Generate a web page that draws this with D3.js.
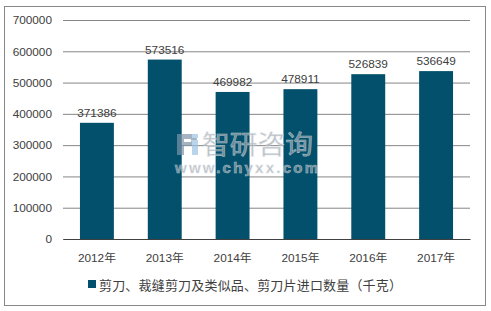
<!DOCTYPE html>
<html><head><meta charset="utf-8">
<script src="https://cdn.jsdelivr.net/npm/d3@7"></script>
<style>body{margin:0;background:#fff}svg{display:block}text{font-family:"Liberation Sans",Arial,"Noto Sans CJK SC",sans-serif;fill:#404040}</style>
</head><body><svg id="c" width="491" height="311"></svg>
<script>
const categories = ["2012年","2013年","2014年","2015年","2016年","2017年"];
const values = [371386,573516,469982,478911,526839,536649];
const yTicks = [0,100000,200000,300000,400000,500000,600000,700000];
const seriesName = "剪刀、裁缝剪刀及类似品、剪刀片进口数量（千克）";

const svg = d3.select("#c");
svg.append("rect").attr("x",4.5).attr("y",6.5).attr("width",481).attr("height",299)
  .attr("fill","#fff").attr("stroke","#888").attr("stroke-width",1);

const m = {l:63, r:470, t:20, b:239};
const x = d3.scaleBand().domain(categories).range([m.l,m.r]).paddingInner(0.5).paddingOuter(0.25);
const y = d3.scaleLinear().domain([0,700000]).range([m.b,m.t]);

const gy = svg.append("g").attr("transform",`translate(${m.l},0)`)
  .call(d3.axisLeft(y).tickValues(yTicks).tickSize(-(m.r-m.l)).tickPadding(11).tickFormat(d3.format("d")));
gy.select(".domain").remove();
gy.selectAll(".tick line").attr("stroke","#868686").attr("stroke-width",1);
gy.selectAll(".tick text").attr("font-size","11.8px").attr("fill","#404040");

svg.selectAll("rect.bar").data(values).join("rect").attr("class","bar")
  .attr("x",(d,i)=>x(categories[i])).attr("width",x.bandwidth())
  .attr("y",d=>y(d)).attr("height",d=>y(0)-y(d)).attr("fill","#02506B");

svg.selectAll("text.val").data(values).join("text").attr("class","val")
  .attr("x",(d,i)=>x(categories[i])+x.bandwidth()/2).attr("y",d=>y(d)-6)
  .attr("text-anchor","middle").attr("font-size","11.8px").text(d=>d);

const gx = svg.append("g").attr("transform",`translate(0,${m.b})`)
  .call(d3.axisBottom(x).tickSize(0).tickPadding(15));
gx.select(".domain").attr("stroke","#404040").attr("stroke-width",1.2);
gx.selectAll(".tick text").attr("font-size","11.8px").attr("fill","#404040");

// watermark (over the bars)
const wm = svg.append("g").attr("opacity",0.7);
wm.append("path").attr("d","M177,134h14a6,6 0 0 1 0,12h-7v9h-7z M184,139v3h6a1.5,1.5 0 0 0 0,-3z")
  .attr("fill","#7d93a8").attr("fill-rule","evenodd");
wm.append("rect").attr("x",192).attr("y",134).attr("width",6).attr("height",4).attr("fill","#9cc3e3");
wm.append("rect").attr("x",192).attr("y",140).attr("width",6).attr("height",15).attr("fill","#9cc3e3");
wm.append("text").attr("x",202).attr("y",154).attr("font-size","26px")
  .attr("textLength",111).attr("lengthAdjust","spacingAndGlyphs")
  .style("fill","#9aa2aa").style("stroke","#e0e4e8").style("stroke-width","0.6px").text("智研咨询");
wm.append("text").attr("x",175).attr("y",173).attr("font-size","15px").attr("font-weight","bold")
  .attr("textLength",143).attr("lengthAdjust","spacing")
  .style("fill","#98a2ac").style("stroke","#e0e4e8").style("stroke-width","0.5px").text("www.chyxx.com");

const lg = svg.append("g");
lg.append("rect").attr("x",88).attr("y",280).attr("width",8).attr("height",8).attr("fill","#02506B");
lg.append("text").attr("x",99).attr("y",290).attr("font-size","13px")
  .attr("textLength",303).attr("lengthAdjust","spacing").text(seriesName);
</script></body></html>
